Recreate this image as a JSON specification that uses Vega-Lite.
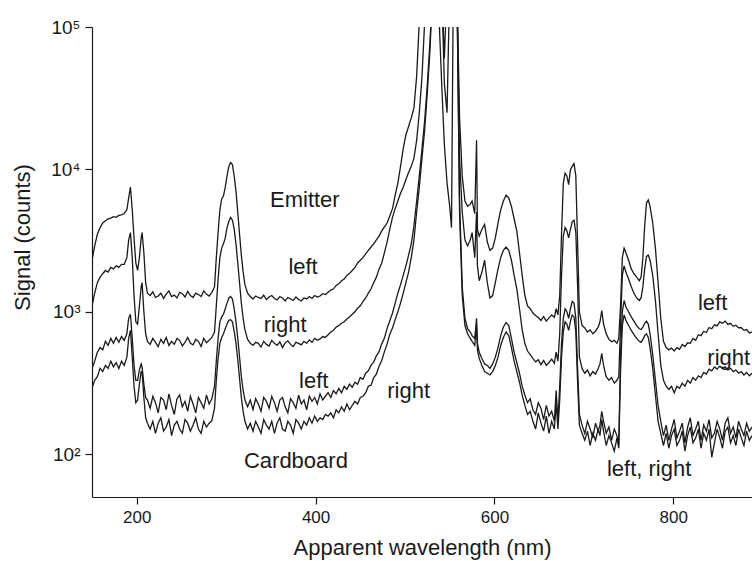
{
  "$schema": "https://vega.github.io/schema/vega-lite/v6.json",
  "autosize": "none",
  "width": 660,
  "height": 470,
  "padding": {"left": 92, "top": 27, "right": 0, "bottom": 64},
  "background": "white",
  "config": {
    "view": {"stroke": null},
    "axis": {
      "domainColor": "#1a1a1a", "tickColor": "#1a1a1a", "labelColor": "#1a1a1a", "titleColor": "#1a1a1a",
      "labelFont": "Liberation Sans", "titleFont": "Liberation Sans", "titleFontWeight": "normal",
      "grid": false, "domainWidth": 1.2, "tickWidth": 1.2
    }
  },
  "datasets": {
    "spectra": [
      {"w":150,"EL":2300,"ER":1100,"CL":400,"CR":290},
      {"w":153,"EL":2900,"ER":1350,"CL":450,"CR":330},
      {"w":156,"EL":3500,"ER":1600,"CL":520,"CR":350},
      {"w":159,"EL":3900,"ER":1750,"CL":560,"CR":400},
      {"w":162,"EL":4200,"ER":1850,"CL":540,"CR":380},
      {"w":165,"EL":4350,"ER":1950,"CL":620,"CR":420},
      {"w":168,"EL":4500,"ER":1900,"CL":580,"CR":400},
      {"w":171,"EL":4550,"ER":2050,"CL":650,"CR":450},
      {"w":174,"EL":4650,"ER":2000,"CL":600,"CR":410},
      {"w":177,"EL":4600,"ER":2100,"CL":660,"CR":440},
      {"w":180,"EL":4750,"ER":2050,"CL":610,"CR":400},
      {"w":183,"EL":4800,"ER":2150,"CL":670,"CR":450},
      {"w":186,"EL":4900,"ER":2150,"CL":630,"CR":420},
      {"w":189,"EL":5200,"ER":2400,"CL":700,"CR":480},
      {"w":191,"EL":6300,"ER":3200,"CL":900,"CR":650},
      {"w":193,"EL":7500,"ER":3600,"CL":960,"CR":740},
      {"w":195,"EL":5200,"ER":2400,"CL":650,"CR":480},
      {"w":197,"EL":3300,"ER":1300,"CL":420,"CR":300},
      {"w":199,"EL":2200,"ER":850,"CL":330,"CR":230},
      {"w":201,"EL":1950,"ER":820,"CL":330,"CR":240},
      {"w":203,"EL":2400,"ER":1100,"CL":390,"CR":310},
      {"w":205,"EL":3300,"ER":1500,"CL":430,"CR":380},
      {"w":206,"EL":3600,"ER":1600,"CL":410,"CR":380},
      {"w":208,"EL":2600,"ER":1000,"CL":310,"CR":250},
      {"w":210,"EL":1600,"ER":700,"CL":250,"CR":180},
      {"w":212,"EL":1350,"ER":620,"CL":240,"CR":165},
      {"w":215,"EL":1300,"ER":590,"CL":210,"CR":150},
      {"w":218,"EL":1380,"ER":650,"CL":255,"CR":170},
      {"w":221,"EL":1260,"ER":610,"CL":230,"CR":140},
      {"w":224,"EL":1290,"ER":570,"CL":195,"CR":165},
      {"w":227,"EL":1350,"ER":640,"CL":250,"CR":180},
      {"w":230,"EL":1240,"ER":600,"CL":240,"CR":145},
      {"w":233,"EL":1330,"ER":660,"CL":205,"CR":155},
      {"w":236,"EL":1400,"ER":580,"CL":265,"CR":175},
      {"w":239,"EL":1280,"ER":620,"CL":220,"CR":135},
      {"w":242,"EL":1310,"ER":590,"CL":190,"CR":160},
      {"w":245,"EL":1250,"ER":650,"CL":245,"CR":170},
      {"w":248,"EL":1370,"ER":630,"CL":260,"CR":150},
      {"w":251,"EL":1340,"ER":575,"CL":215,"CR":140},
      {"w":254,"EL":1270,"ER":610,"CL":235,"CR":175},
      {"w":257,"EL":1390,"ER":660,"CL":200,"CR":165},
      {"w":260,"EL":1300,"ER":600,"CL":255,"CR":145},
      {"w":263,"EL":1260,"ER":585,"CL":225,"CR":160},
      {"w":266,"EL":1350,"ER":640,"CL":195,"CR":180},
      {"w":269,"EL":1320,"ER":620,"CL":250,"CR":150},
      {"w":272,"EL":1280,"ER":570,"CL":230,"CR":140},
      {"w":275,"EL":1400,"ER":650,"CL":210,"CR":170},
      {"w":278,"EL":1330,"ER":605,"CL":260,"CR":155},
      {"w":281,"EL":1290,"ER":630,"CL":225,"CR":165},
      {"w":284,"EL":1370,"ER":660,"CL":245,"CR":172},
      {"w":287,"EL":1500,"ER":720,"CL":300,"CR":210},
      {"w":289,"EL":2400,"ER":1100,"CL":450,"CR":330},
      {"w":291,"EL":3600,"ER":1700,"CL":650,"CR":470},
      {"w":293,"EL":5200,"ER":2400,"CL":850,"CR":600},
      {"w":295,"EL":6200,"ER":2800,"CL":920,"CR":660},
      {"w":297,"EL":6500,"ER":3000,"CL":960,"CR":700},
      {"w":299,"EL":7500,"ER":3300,"CL":1050,"CR":760},
      {"w":301,"EL":9000,"ER":3900,"CL":1150,"CR":820},
      {"w":303,"EL":10500,"ER":4300,"CL":1250,"CR":870},
      {"w":305,"EL":11200,"ER":4600,"CL":1280,"CR":880},
      {"w":307,"EL":10800,"ER":4400,"CL":1230,"CR":850},
      {"w":309,"EL":9000,"ER":3800,"CL":1050,"CR":730},
      {"w":311,"EL":7000,"ER":3000,"CL":850,"CR":600},
      {"w":313,"EL":5000,"ER":2200,"CL":650,"CR":460},
      {"w":315,"EL":3500,"ER":1600,"CL":480,"CR":340},
      {"w":317,"EL":2500,"ER":1150,"CL":350,"CR":250},
      {"w":319,"EL":1900,"ER":900,"CL":280,"CR":200},
      {"w":321,"EL":1550,"ER":750,"CL":240,"CR":170},
      {"w":324,"EL":1350,"ER":640,"CL":215,"CR":150},
      {"w":327,"EL":1280,"ER":600,"CL":240,"CR":165},
      {"w":330,"EL":1230,"ER":580,"CL":205,"CR":145},
      {"w":333,"EL":1290,"ER":610,"CL":245,"CR":170},
      {"w":336,"EL":1260,"ER":600,"CL":225,"CR":155},
      {"w":339,"EL":1240,"ER":565,"CL":200,"CR":140},
      {"w":342,"EL":1310,"ER":620,"CL":250,"CR":175},
      {"w":345,"EL":1220,"ER":590,"CL":235,"CR":160},
      {"w":348,"EL":1270,"ER":575,"CL":210,"CR":150},
      {"w":351,"EL":1300,"ER":630,"CL":255,"CR":170},
      {"w":354,"EL":1240,"ER":600,"CL":230,"CR":140},
      {"w":357,"EL":1210,"ER":580,"CL":200,"CR":165},
      {"w":360,"EL":1280,"ER":615,"CL":240,"CR":180},
      {"w":363,"EL":1250,"ER":560,"CL":250,"CR":150},
      {"w":366,"EL":1190,"ER":605,"CL":215,"CR":145},
      {"w":369,"EL":1260,"ER":625,"CL":195,"CR":170},
      {"w":372,"EL":1230,"ER":590,"CL":245,"CR":160},
      {"w":375,"EL":1200,"ER":570,"CL":230,"CR":140},
      {"w":378,"EL":1270,"ER":610,"CL":210,"CR":175},
      {"w":381,"EL":1220,"ER":600,"CL":260,"CR":165},
      {"w":384,"EL":1190,"ER":585,"CL":225,"CR":150},
      {"w":387,"EL":1250,"ER":620,"CL":240,"CR":170},
      {"w":390,"EL":1230,"ER":600,"CL":205,"CR":160},
      {"w":393,"EL":1280,"ER":635,"CL":255,"CR":180},
      {"w":396,"EL":1240,"ER":610,"CL":235,"CR":165},
      {"w":399,"EL":1300,"ER":650,"CL":250,"CR":185},
      {"w":402,"EL":1270,"ER":630,"CL":225,"CR":170},
      {"w":405,"EL":1290,"ER":645,"CL":265,"CR":180},
      {"w":408,"EL":1340,"ER":670,"CL":240,"CR":175},
      {"w":411,"EL":1320,"ER":660,"CL":255,"CR":190},
      {"w":414,"EL":1370,"ER":690,"CL":270,"CR":185},
      {"w":417,"EL":1420,"ER":720,"CL":250,"CR":195},
      {"w":420,"EL":1450,"ER":740,"CL":280,"CR":180},
      {"w":423,"EL":1530,"ER":780,"CL":265,"CR":205},
      {"w":426,"EL":1570,"ER":800,"CL":290,"CR":195},
      {"w":429,"EL":1650,"ER":830,"CL":270,"CR":215},
      {"w":432,"EL":1700,"ER":850,"CL":300,"CR":200},
      {"w":435,"EL":1800,"ER":890,"CL":285,"CR":225},
      {"w":438,"EL":1860,"ER":920,"CL":310,"CR":205},
      {"w":441,"EL":1950,"ER":960,"CL":295,"CR":220},
      {"w":444,"EL":2050,"ER":1000,"CL":320,"CR":235},
      {"w":447,"EL":2200,"ER":1060,"CL":310,"CR":225},
      {"w":450,"EL":2300,"ER":1100,"CL":345,"CR":250},
      {"w":453,"EL":2400,"ER":1180,"CL":335,"CR":255},
      {"w":456,"EL":2550,"ER":1250,"CL":370,"CR":270},
      {"w":459,"EL":2700,"ER":1350,"CL":385,"CR":300},
      {"w":462,"EL":2850,"ER":1450,"CL":420,"CR":305},
      {"w":465,"EL":3000,"ER":1600,"CL":445,"CR":345},
      {"w":468,"EL":3200,"ER":1750,"CL":490,"CR":365},
      {"w":471,"EL":3400,"ER":2000,"CL":525,"CR":415},
      {"w":474,"EL":3700,"ER":2200,"CL":595,"CR":455},
      {"w":477,"EL":3950,"ER":2600,"CL":655,"CR":525},
      {"w":480,"EL":4200,"ER":3100,"CL":765,"CR":595},
      {"w":483,"EL":4700,"ER":3800,"CL":865,"CR":695},
      {"w":486,"EL":5300,"ER":4600,"CL":980,"CR":770},
      {"w":489,"EL":6600,"ER":5300,"CL":1150,"CR":880},
      {"w":492,"EL":8000,"ER":6000,"CL":1350,"CR":1000},
      {"w":495,"EL":10500,"ER":6800,"CL":1550,"CR":1150},
      {"w":498,"EL":14000,"ER":7500,"CL":1800,"CR":1350},
      {"w":501,"EL":17500,"ER":8500,"CL":2100,"CR":1600},
      {"w":504,"EL":20000,"ER":9500,"CL":2500,"CR":1900},
      {"w":507,"EL":23000,"ER":10500,"CL":3000,"CR":2400},
      {"w":510,"EL":27000,"ER":12000,"CL":4000,"CR":3200},
      {"w":513,"EL":45000,"ER":16000,"CL":6000,"CR":5000},
      {"w":516,"EL":110000,"ER":25000,"CL":9000,"CR":7500},
      {"w":519,"EL":200000,"ER":45000,"CL":14000,"CR":12000},
      {"w":522,"EL":200000,"ER":110000,"CL":22000,"CR":19000},
      {"w":525,"EL":200000,"ER":200000,"CL":40000,"CR":35000},
      {"w":528,"EL":200000,"ER":200000,"CL":80000,"CR":70000},
      {"w":531,"EL":200000,"ER":200000,"CL":200000,"CR":200000},
      {"w":535,"EL":200000,"ER":200000,"CL":200000,"CR":200000},
      {"w":538,"EL":200000,"ER":200000,"CL":120000,"CR":200000},
      {"w":541,"EL":200000,"ER":200000,"CL":40000,"CR":200000},
      {"w":544,"EL":200000,"ER":40000,"CL":15000,"CR":60000},
      {"w":547,"EL":200000,"ER":25000,"CL":8000,"CR":200000},
      {"w":550,"EL":200000,"ER":200000,"CL":5500,"CR":200000},
      {"w":552,"EL":200000,"ER":200000,"CL":3900,"CR":200000},
      {"w":554,"EL":200000,"ER":200000,"CL":200000,"CR":200000},
      {"w":558,"EL":200000,"ER":200000,"CL":200000,"CR":200000},
      {"w":561,"EL":23000,"ER":12000,"CL":6000,"CR":5000},
      {"w":564,"EL":9000,"ER":5000,"CL":1500,"CR":1300},
      {"w":567,"EL":6000,"ER":3200,"CL":900,"CR":800},
      {"w":570,"EL":5500,"ER":2900,"CL":760,"CR":700},
      {"w":573,"EL":5700,"ER":3200,"CL":720,"CR":650},
      {"w":575,"EL":6000,"ER":3600,"CL":680,"CR":620},
      {"w":578,"EL":4900,"ER":2400,"CL":650,"CR":580},
      {"w":580,"EL":16000,"ER":5000,"CL":900,"CR":800},
      {"w":581,"EL":3800,"ER":2100,"CL":600,"CR":540},
      {"w":583,"EL":3400,"ER":1650,"CL":520,"CR":470},
      {"w":586,"EL":3800,"ER":1900,"CL":470,"CR":420},
      {"w":589,"EL":4100,"ER":2300,"CL":430,"CR":380},
      {"w":592,"EL":3100,"ER":1600,"CL":420,"CR":370},
      {"w":595,"EL":2700,"ER":1250,"CL":400,"CR":360},
      {"w":598,"EL":2800,"ER":1300,"CL":430,"CR":380},
      {"w":601,"EL":3300,"ER":1600,"CL":480,"CR":420},
      {"w":604,"EL":4200,"ER":2000,"CL":560,"CR":480},
      {"w":607,"EL":5200,"ER":2400,"CL":680,"CR":580},
      {"w":610,"EL":6000,"ER":2700,"CL":780,"CR":660},
      {"w":613,"EL":6600,"ER":2850,"CL":840,"CR":720},
      {"w":616,"EL":6300,"ER":2700,"CL":800,"CR":680},
      {"w":619,"EL":5500,"ER":2300,"CL":650,"CR":560},
      {"w":622,"EL":4500,"ER":1800,"CL":520,"CR":450},
      {"w":625,"EL":3700,"ER":1450,"CL":440,"CR":380},
      {"w":628,"EL":2600,"ER":1050,"CL":370,"CR":320},
      {"w":631,"EL":1800,"ER":750,"CL":300,"CR":260},
      {"w":634,"EL":1300,"ER":600,"CL":260,"CR":220},
      {"w":637,"EL":1100,"ER":530,"CL":230,"CR":190},
      {"w":640,"EL":1050,"ER":500,"CL":245,"CR":200},
      {"w":643,"EL":980,"ER":470,"CL":205,"CR":170},
      {"w":646,"EL":940,"ER":445,"CL":190,"CR":150},
      {"w":649,"EL":910,"ER":460,"CL":230,"CR":195},
      {"w":652,"EL":870,"ER":425,"CL":210,"CR":165},
      {"w":655,"EL":925,"ER":455,"CL":175,"CR":145},
      {"w":658,"EL":860,"ER":420,"CL":220,"CR":185},
      {"w":661,"EL":905,"ER":440,"CL":185,"CR":140},
      {"w":664,"EL":950,"ER":465,"CL":200,"CR":170},
      {"w":667,"EL":915,"ER":435,"CL":170,"CR":150},
      {"w":669,"EL":1050,"ER":520,"CL":280,"CR":230},
      {"w":671,"EL":950,"ER":450,"CL":170,"CR":150},
      {"w":673,"EL":1300,"ER":700,"CL":300,"CR":240},
      {"w":675,"EL":3500,"ER":1800,"CL":600,"CR":480},
      {"w":677,"EL":8000,"ER":3400,"CL":900,"CR":720},
      {"w":679,"EL":9400,"ER":3900,"CL":1050,"CR":850},
      {"w":681,"EL":9000,"ER":3700,"CL":1000,"CR":820},
      {"w":683,"EL":7800,"ER":3300,"CL":900,"CR":740},
      {"w":685,"EL":10000,"ER":3800,"CL":1050,"CR":860},
      {"w":687,"EL":10500,"ER":4300,"CL":1180,"CR":950},
      {"w":689,"EL":11000,"ER":4400,"CL":1150,"CR":920},
      {"w":691,"EL":9000,"ER":3600,"CL":900,"CR":720},
      {"w":693,"EL":3000,"ER":1500,"CL":400,"CR":320},
      {"w":695,"EL":1000,"ER":480,"CL":190,"CR":160},
      {"w":698,"EL":800,"ER":400,"CL":160,"CR":140},
      {"w":701,"EL":770,"ER":370,"CL":140,"CR":125},
      {"w":704,"EL":720,"ER":390,"CL":170,"CR":145},
      {"w":707,"EL":745,"ER":355,"CL":150,"CR":115},
      {"w":710,"EL":700,"ER":380,"CL":130,"CR":140},
      {"w":713,"EL":730,"ER":365,"CL":165,"CR":125},
      {"w":716,"EL":780,"ER":400,"CL":145,"CR":150},
      {"w":718,"EL":850,"ER":430,"CL":160,"CR":135},
      {"w":720,"EL":1020,"ER":510,"CL":200,"CR":175},
      {"w":722,"EL":820,"ER":420,"CL":170,"CR":145},
      {"w":725,"EL":700,"ER":350,"CL":140,"CR":115},
      {"w":728,"EL":640,"ER":330,"CL":155,"CR":135},
      {"w":731,"EL":615,"ER":345,"CL":125,"CR":120},
      {"w":734,"EL":630,"ER":315,"CL":150,"CR":105},
      {"w":737,"EL":600,"ER":330,"CL":135,"CR":130},
      {"w":739,"EL":650,"ER":350,"CL":115,"CR":110},
      {"w":741,"EL":1100,"ER":800,"CL":500,"CR":380},
      {"w":743,"EL":2400,"ER":1800,"CL":1000,"CR":800},
      {"w":745,"EL":2800,"ER":2100,"CL":1200,"CR":950},
      {"w":747,"EL":2600,"ER":1900,"CL":1080,"CR":870},
      {"w":750,"EL":2300,"ER":1700,"CL":1000,"CR":800},
      {"w":753,"EL":2000,"ER":1500,"CL":920,"CR":740},
      {"w":756,"EL":1850,"ER":1350,"CL":860,"CR":690},
      {"w":759,"EL":1750,"ER":1250,"CL":800,"CR":650},
      {"w":762,"EL":1650,"ER":1200,"CL":760,"CR":620},
      {"w":764,"EL":1750,"ER":1250,"CL":750,"CR":610},
      {"w":766,"EL":2400,"ER":1500,"CL":780,"CR":640},
      {"w":768,"EL":4000,"ER":2000,"CL":830,"CR":680},
      {"w":770,"EL":5800,"ER":2450,"CL":860,"CR":700},
      {"w":772,"EL":6100,"ER":2500,"CL":820,"CR":660},
      {"w":774,"EL":5500,"ER":2300,"CL":700,"CR":560},
      {"w":777,"EL":4200,"ER":1800,"CL":500,"CR":400},
      {"w":780,"EL":2800,"ER":1200,"CL":330,"CR":260},
      {"w":783,"EL":1600,"ER":700,"CL":220,"CR":170},
      {"w":786,"EL":900,"ER":420,"CL":170,"CR":140},
      {"w":789,"EL":620,"ER":330,"CL":135,"CR":115},
      {"w":792,"EL":560,"ER":300,"CL":160,"CR":140},
      {"w":795,"EL":540,"ER":285,"CL":125,"CR":110},
      {"w":798,"EL":555,"ER":300,"CL":150,"CR":135},
      {"w":801,"EL":530,"ER":270,"CL":175,"CR":150},
      {"w":804,"EL":560,"ER":300,"CL":130,"CR":115},
      {"w":807,"EL":545,"ER":290,"CL":145,"CR":125},
      {"w":810,"EL":590,"ER":315,"CL":165,"CR":145},
      {"w":813,"EL":570,"ER":300,"CL":120,"CR":105},
      {"w":816,"EL":605,"ER":330,"CL":155,"CR":135},
      {"w":819,"EL":600,"ER":315,"CL":180,"CR":155},
      {"w":822,"EL":650,"ER":345,"CL":135,"CR":120},
      {"w":825,"EL":630,"ER":330,"CL":150,"CR":130},
      {"w":828,"EL":690,"ER":355,"CL":170,"CR":150},
      {"w":831,"EL":680,"ER":345,"CL":125,"CR":110},
      {"w":834,"EL":730,"ER":375,"CL":160,"CR":140},
      {"w":837,"EL":715,"ER":365,"CL":145,"CR":125},
      {"w":840,"EL":775,"ER":395,"CL":175,"CR":150},
      {"w":843,"EL":760,"ER":385,"CL":130,"CR":95},
      {"w":846,"EL":810,"ER":410,"CL":140,"CR":120},
      {"w":849,"EL":795,"ER":395,"CL":170,"CR":150},
      {"w":852,"EL":850,"ER":415,"CL":150,"CR":130},
      {"w":855,"EL":830,"ER":400,"CL":125,"CR":110},
      {"w":858,"EL":860,"ER":410,"CL":165,"CR":145},
      {"w":861,"EL":815,"ER":390,"CL":180,"CR":155},
      {"w":864,"EL":830,"ER":400,"CL":140,"CR":120},
      {"w":867,"EL":790,"ER":380,"CL":155,"CR":135},
      {"w":870,"EL":805,"ER":390,"CL":130,"CR":115},
      {"w":873,"EL":770,"ER":370,"CL":170,"CR":150},
      {"w":876,"EL":775,"ER":380,"CL":150,"CR":130},
      {"w":879,"EL":740,"ER":360,"CL":135,"CR":115},
      {"w":882,"EL":750,"ER":375,"CL":165,"CR":145},
      {"w":885,"EL":710,"ER":355,"CL":145,"CR":125},
      {"w":888,"EL":720,"ER":370,"CL":155,"CR":135}
    ],
    "labels": [
      {"w":388,"v":5400,"t":"Emitter"},
      {"w":386,"v":1850,"t":"left"},
      {"w":366,"v":723,"t":"right"},
      {"w":398,"v":292,"t":"left"},
      {"w":504,"v":248,"t":"right"},
      {"w":378,"v":80,"t":"Cardboard"},
      {"w":844,"v":1033,"t":"left"},
      {"w":862,"v":423,"t":"right"},
      {"w":773,"v":70,"t":"left, right"}
    ]
  },
  "layer": [
    {
      "data": {"name": "spectra"},
      "transform": [{"fold": ["EL", "ER", "CL", "CR"], "as": ["s", "v"]}],
      "mark": {"type": "line", "clip": true, "color": "#1a1a1a", "strokeWidth": 1.3, "strokeJoin": "miter"},
      "encoding": {
        "x": {"field": "w", "type": "quantitative",
              "scale": {"domain": [150, 888], "nice": false, "zero": false},
              "axis": {"values": [200, 400, 600, 800], "title": "Apparent wavelength (nm)",
                       "labelFontSize": 17, "titleFontSize": 22, "tickSize": 7, "labelPadding": 5,
                       "titleY": 57, "titleBaseline": "alphabetic", "labelFlush": false}},
        "y": {"field": "v", "type": "quantitative",
              "scale": {"type": "log", "domain": [50, 100000], "nice": false},
              "axis": {"values": [100, 1000, 10000, 100000], "title": "Signal (counts)",
                       "labelExpr": "datum.value == 100 ? '10²' : datum.value == 1000 ? '10³' : datum.value == 10000 ? '10⁴' : '10⁵'",
                       "labelFontSize": 19, "titleFontSize": 22, "tickSize": 7, "labelPadding": 5,
                       "titleX": -70, "titleY": 210, "titleAlign": "center", "titleBaseline": "middle", "titleAngle": 270}},
        "detail": {"field": "s", "type": "nominal"}
      }
    },
    {
      "mark": {"type": "rule", "color": "#1a1a1a", "strokeWidth": 1.2},
      "encoding": {"y": {"datum": 100000}}
    },
    {
      "data": {"name": "labels"},
      "mark": {"type": "text", "font": "Liberation Sans", "fontSize": 22, "color": "#1a1a1a", "align": "center", "baseline": "alphabetic"},
      "encoding": {
        "x": {"field": "w", "type": "quantitative"},
        "y": {"field": "v", "type": "quantitative"},
        "text": {"field": "t", "type": "nominal"}
      }
    }
  ]
}
